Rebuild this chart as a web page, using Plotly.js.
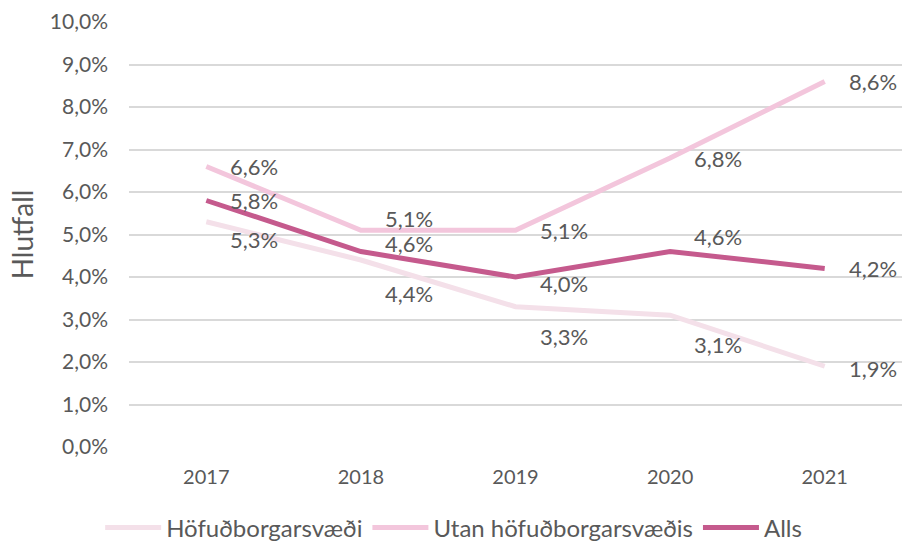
<!DOCTYPE html>
<html>
<head>
<meta charset="utf-8">
<script src="https://cdn.plot.ly/plotly-3.0.1.min.js"></script>
<style>html,body{margin:0;padding:0;background:#fff;}#chart{width:902px;height:543px;}</style>
</head>
<body>
<div id="chart"></div>
<script>
const years = ['2017', '2018', '2019', '2020', '2021'];
const hofud = [5.3, 4.4, 3.3, 3.1, 1.9];
const utan = [6.6, 5.1, 5.1, 6.8, 8.6];
const alls = [5.8, 4.6, 4.0, 4.6, 4.2];
const seriesNames = ['Höfuðborgarsvæði', 'Utan höfuðborgarsvæðis', 'Alls'];
const yTicks = [0, 1, 2, 3, 4, 5, 6, 7, 8, 9, 10];

// label vertical offsets (px, positive = down)
const hofudShift = [18, 33, 30, 29, 2];
const utanShift = [0, -12, 0, 0, 0];
const allsShift = [0, -8, 6, -15, 0];

const colors = ['#f4e0e9', '#f3c6dc', '#c55a8d'];
const FONT = 'Lato, "Open Sans", sans-serif';
const TXT = '#595959';

const series = [hofud, utan, alls];
const shifts = [hofudShift, utanShift, allsShift];

const traces = series.map((vals, i) => ({
  x: years, y: vals, name: seriesNames[i], type: 'scatter', mode: 'lines',
  line: {color: colors[i], width: 5}, hoverinfo: 'skip'
}));

const fmt = v => v.toFixed(1).replace('.', ',') + '%';
const annotations = [];
series.forEach((vals, i) => {
  vals.forEach((v, j) => {
    annotations.push({
      x: j, y: v, xref: 'x', yref: 'y', text: fmt(v), showarrow: false,
      xanchor: 'left', yanchor: 'middle', xshift: 22, yshift: -shifts[i][j],
      font: {family: FONT, size: 22, color: TXT}
    });
  });
});

const layout = {
  width: 902, height: 543,
  margin: {l: 129, r: 0, t: 22, b: 96},
  paper_bgcolor: '#fff', plot_bgcolor: '#fff',
  font: {family: FONT, size: 20, color: TXT},
  showlegend: true,
  legend: {orientation: 'h', x: 0.42, xanchor: 'center', yref: 'container', y: 0.028, yanchor: 'middle',
           itemwidth: 56,
           font: {family: FONT, size: 24, color: TXT}, traceorder: 'normal'},
  xaxis: {type: 'category', range: [-0.5, 4.5], showgrid: false, zeroline: false,
          showline: false, ticks: '', ticklabelstandoff: 16, tickfont: {size: 20, color: TXT}, fixedrange: true},
  yaxis: {range: [0, 10], tickvals: yTicks, ticktext: yTicks.map(v => v.toFixed(1).replace('.', ',') + '%'),
          showgrid: true, gridcolor: '#d9d9d9', gridwidth: 2, zeroline: false, showline: false,
          ticks: '', ticklabelstandoff: 20, tickfont: {size: 21, color: TXT},
          title: {text: 'Hlutfall', font: {size: 28, color: TXT}, standoff: 8}, fixedrange: true},
  annotations: annotations
};

Plotly.newPlot('chart', traces, layout, {staticPlot: true, displayModeBar: false});
</script>
</body>
</html>
